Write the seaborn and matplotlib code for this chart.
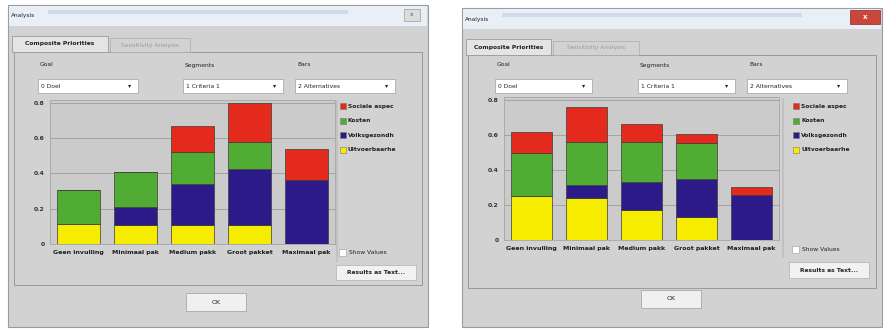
import matplotlib
matplotlib.use("Agg")
import matplotlib.pyplot as plt
from matplotlib.patches import Rectangle
import seaborn as sns

# ---- data -------------------------------------------------------------
categories = ["Geen invulling", "Minimaal pak", "Medium pakk", "Groot pakket", "Maximaal pak"]
criteria = ["Sociale aspec", "Kosten", "Volksgezondh", "Uitvoerbaarhe"]
yticks = [0, 0.2, 0.4, 0.6, 0.8]
ytick_labels = ["0", "0.2", "0.4", "0.6", "0.8"]

# first analysis window
uitvoer_a = [0.115, 0.11, 0.11, 0.11, 0.0]
volks_a = [0.0, 0.10, 0.23, 0.315, 0.36]
kosten_a = [0.19, 0.20, 0.18, 0.15, 0.0]
sociaal_a = [0.0, 0.0, 0.15, 0.225, 0.18]

# second analysis window
uitvoer_b = [0.25, 0.24, 0.17, 0.13, 0.0]
volks_b = [0.0, 0.075, 0.16, 0.22, 0.255]
kosten_b = [0.245, 0.245, 0.23, 0.205, 0.0]
sociaal_b = [0.12, 0.20, 0.105, 0.05, 0.05]

colors = {"Sociale aspec": "#e42a1d", "Kosten": "#50ac33",
          "Volksgezondh": "#2c1a88", "Uitvoerbaarhe": "#f6ec00"}

W, H = 886, 330
sns.set_theme(style="white")
plt.rcParams["font.family"] = ["DejaVu Sans"]
fig = plt.figure(figsize=(W / 100, H / 100), dpi=100)
fig.patch.set_facecolor("white")

DIALOG = "#d2d2d2"
FS = 4.4


def rect(x, y, w, h, fc, ec="none", lw=0.6, z=1):
    fig.add_artist(Rectangle((x / W, 1 - (y + h) / H), w / W, h / H,
                             transform=fig.transFigure, facecolor=fc,
                             edgecolor=ec, linewidth=lw, zorder=z))


def text(x, y, s, size=FS, color="#222222", weight="normal", ha="left"):
    fig.text(x / W, 1 - y / H, s, fontsize=size, color=color,
             weight=weight, ha=ha, va="center", zorder=5)


def window(x0, x1, y0, close_red, tab_w, combos, labels, plot_box):
    # frame and title bar
    rect(x0, y0, x1 - x0, H - y0 - 3, DIALOG, "#9c9c9c", 0.8)
    rect(x0 + 1, y0 + 1, x1 - x0 - 2, 20, "#e9eff6")
    rect(x0 + 40, y0 + 5, x1 - x0 - 120, 4, "#cfdbe8")
    text(x0 + 3, y0 + 11, "Analysis", size=4.2)
    if close_red:
        rect(x1 - 32, y0 + 2, 30, 14, "#c9473a", "#8a2c22", 0.5, z=3)
        text(x1 - 17, y0 + 9, "x", size=5, color="white", weight="bold", ha="center")
    else:
        rect(x1 - 24, y0 + 4, 16, 12, "#dcdcdc", "#9a9a9a", 0.5, z=3)
        text(x1 - 16, y0 + 10, "x", size=4.5, color="#555555", ha="center")

    # tabs and etched panel
    tx = x0 + 4
    rect(x0 + 6, y0 + 47, x1 - x0 - 12, 233, DIALOG, "#9a9a9a", 0.7)
    rect(tx, y0 + 31, tab_w[0], 16, "#e4e4e4", "#9a9a9a", 0.6, z=2)
    text(tx + tab_w[0] / 2, y0 + 39, "Composite Priorities", size=4.3,
         weight="bold", ha="center")
    rect(tx + tab_w[0] + 2, y0 + 33, tab_w[1], 14, DIALOG, "#aaaaaa", 0.5, z=2)
    text(tx + tab_w[0] + 2 + tab_w[1] / 2, y0 + 40, "Sensitivity Analysis",
         size=4.3, color="#9a9a9a", ha="center")

    # selector labels and combo boxes
    for (cx0, cx1), (lab, val) in zip(combos, labels):
        text(cx0 + 2, 65, lab, size=4.3)
        rect(cx0, 79, cx1 - cx0, 14, "white", "#a0a0a0", 0.5, z=2)
        text(cx0 + 3, 86, val, size=4.3)
        text(cx1 - 8, 86, "\u25be", size=4.5, ha="center")

    # chart area
    px0, py0, px1, py1 = plot_box
    ax = fig.add_axes([px0 / W, 1 - py1 / H, (px1 - px0) / W, (py1 - py0) / H])
    ax.set_zorder(4)
    return ax


def stacked(ax, series, ytop):
    bottom = [0.0] * len(categories)
    for name, vals in series:
        sns.barplot(x=categories, y=vals, bottom=bottom, color=colors[name],
                    saturation=1, width=0.76, edgecolor="#3b3b3b",
                    linewidth=0.5, errorbar=None, ax=ax, zorder=3)
        bottom = [b + v for b, v in zip(bottom, vals)]
    ax.set_xlim(-0.5, len(categories) - 0.5)
    ax.set_ylim(0, ytop)
    ax.set_facecolor("#cbcbcb")
    ax.set_yticks(yticks)
    ax.set_yticklabels(ytick_labels, fontsize=FS, weight="bold", color="#333333")
    ax.set_xticks(range(len(categories)))
    ax.set_xticklabels(categories, fontsize=4.5, weight="bold", color="#1e1e1e")
    ax.tick_params(axis="both", length=0, pad=4)
    ax.yaxis.grid(True, color="#a3a3a3", linewidth=0.7, zorder=0)
    ax.set_axisbelow(True)
    for s in ax.spines.values():
        s.set_color("#a5a5a5")
        s.set_linewidth(0.6)
    ax.set_xlabel("")
    ax.set_ylabel("")


def side(legend_x, y_first, btn_box, lx0, ly0, ly1):
    rect(lx0, ly0, 2, ly1 - ly0, "#c2c2c2", z=2)
    for i, name in enumerate(criteria):
        y = y_first + i * 14.5
        rect(legend_x, y - 3, 6, 6, colors[name], "#777777", 0.4, z=3)
        text(legend_x + 8, y, name, size=4.3, weight="bold")
    bx0, by0, bx1, by1 = btn_box
    rect(legend_x - 1, by0 - 16, 7, 7, "white", "#9a9a9a", 0.4, z=3)
    text(legend_x + 9, by0 - 12.5, "Show Values", size=4.3)
    rect(bx0, by0, bx1 - bx0, by1 - by0, "#f2f2f2", "#b0b0b0", 0.5, z=3)
    text((bx0 + bx1) / 2, (by0 + by1) / 2, "Results as Text...", size=4.3,
         weight="bold", ha="center")


# left window
axL = window(8, 428, 5, False, (96, 80),
             [(38, 138), (183, 283), (295, 395)],
             [("Goal", "0 Doel"), ("Segments", "1 Criteria 1"), ("Bars", "2 Alternatives")],
             (50, 100, 335, 244))
stacked(axL, [("Uitvoerbaarhe", uitvoer_a), ("Volksgezondh", volks_a),
              ("Kosten", kosten_a), ("Sociale aspec", sociaal_a)], 0.815)
side(340, 106, (336, 265, 416, 280), 336, 100, 262)
rect(186, 293, 60, 18, "#f0f0f0", "#a8a8a8", 0.6, z=3)
text(216, 302, "OK", size=4.5, ha="center")

# right window
axR = window(462, 882, 8, True, (85, 86),
             [(495, 592), (638, 735), (747, 847)],
             [("Goal", "0 Doel"), ("Segments", "1 Criteria 1"), ("Bars", "2 Alternatives")],
             (504, 97, 779, 240))
stacked(axR, [("Uitvoerbaarhe", uitvoer_b), ("Volksgezondh", volks_b),
              ("Kosten", kosten_b), ("Sociale aspec", sociaal_b)], 0.817)
side(793, 106, (789, 262, 869, 278), 782, 98, 258)
rect(641, 290, 60, 18, "#f0f0f0", "#a8a8a8", 0.6, z=3)
text(671, 299, "OK", size=4.5, ha="center")

fig.savefig("out.png", dpi=100, facecolor="white")
